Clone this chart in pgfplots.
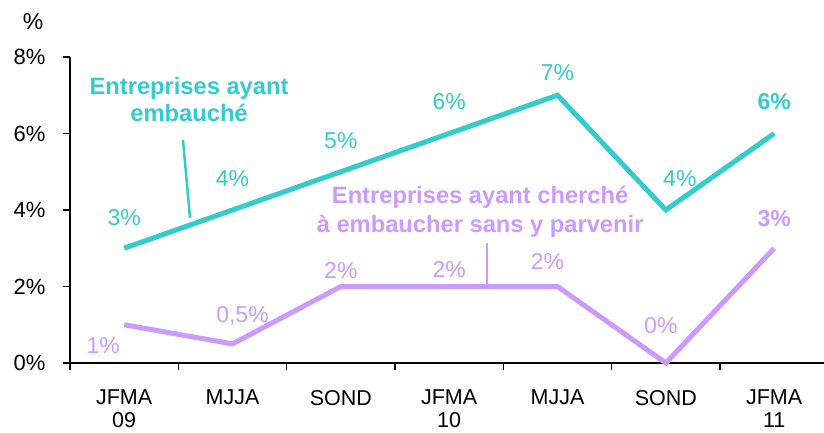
\documentclass[border=0pt]{standalone}
\usepackage{pgfplots}
\pgfplotsset{compat=1.18}
\usepackage{fontspec}
\setmainfont{Liberation Sans}
\definecolor{teal1}{HTML}{33CCCC}
\definecolor{lav}{HTML}{CC99FF}
\begin{document}
\begin{tikzpicture}[font=\fontsize{23}{27}\selectfont]
\useasboundingbox (0,0) rectangle (824pt,432pt);
\begin{axis}[
  at={(70pt,69pt)}, anchor=south west,
  scale only axis, width=754pt, height=306pt,
  xmin=-0.5, xmax=6.46, ymin=0, ymax=8,
  axis lines=left, axis line style={-, line width=1.5pt},
  tick align=outside, major tick length=7pt,
  tick style={line width=1.5pt, black},
  xtick={-0.5,0.5,1.5,2.5,3.5,4.5,5.5}, xticklabels={},
  extra x ticks={0,1,2,3,4,5,6},
  extra x tick labels={JFMA\\09, MJJA, SOND, JFMA\\10, MJJA, SOND, JFMA\\11},
  extra x tick style={major tick length=0pt, tick label style={align=center, anchor=north, yshift=-23.5pt, font=\fontsize{21.5}{22.5}\selectfont}},
  ytick={0,2,4,6,8}, yticklabels={0\%,2\%,4\%,6\%,8\%},
  y tick label style={xshift=-14pt, font=\fontsize{22}{25}\selectfont},
  clip=false,
]
\addplot[teal1, line width=5pt] coordinates {(0,3) (1,4) (2,5) (3,6) (4,7) (5,4) (6,6)};
\addplot[lav, line width=5pt] coordinates {(0,1) (1,0.5) (2,2) (3,2) (4,2) (5,0) (6,3)};
% data labels teal
\node[teal1] at (axis cs:0,3) [yshift=31pt] {3\%};
\node[teal1] at (axis cs:1,4) [yshift=31pt] {4\%};
\node[teal1] at (axis cs:2,5) [yshift=31pt] {5\%};
\node[teal1] at (axis cs:3,6) [yshift=32pt] {6\%};
\node[teal1] at (axis cs:4,7) [yshift=23pt] {7\%};
\node[teal1] at (axis cs:5,4) [yshift=31pt, xshift=14pt] {4\%};
\node[teal1, font=\fontsize{23}{27}\selectfont\bfseries] at (axis cs:6,6) [yshift=32pt] {6\%};
% data labels lavender
\node[lav] at (axis cs:0,1) [yshift=-21pt, xshift=-21pt] {1\%};
\node[lav] at (axis cs:1,0.5) [yshift=28pt, xshift=10pt] {0,5\%};
\node[lav] at (axis cs:2,2) [yshift=16pt] {2\%};
\node[lav] at (axis cs:3,2) [yshift=17pt] {2\%};
\node[lav] at (axis cs:4,2) [yshift=25pt, xshift=-10pt] {2\%};
\node[lav] at (axis cs:5,0) [yshift=37pt, xshift=-5pt] {0\%};
\node[lav, font=\fontsize{23}{27}\selectfont\bfseries] at (axis cs:6,3) [yshift=30pt] {3\%};
% annotations
\node[teal1, align=center, font=\fontsize{23.7}{27}\selectfont\bfseries] at (axis cs:0.599,6.876) {Entreprises ayant\\embauché};
\draw[teal1, line width=2.5pt] (axis cs:0.543,5.83) -- (axis cs:0.608,3.79);
\node[lav, align=center, font=\fontsize{23.7}{29}\selectfont\bfseries] at (axis cs:3.286,3.95) {Entreprises ayant cherché\\à embaucher sans y parvenir};
\draw[lav, line width=2.5pt] (axis cs:3.35,3.14) -- (axis cs:3.35,2);
\end{axis}
\node at (33pt,410pt) {\%};
\end{tikzpicture}
\end{document}
